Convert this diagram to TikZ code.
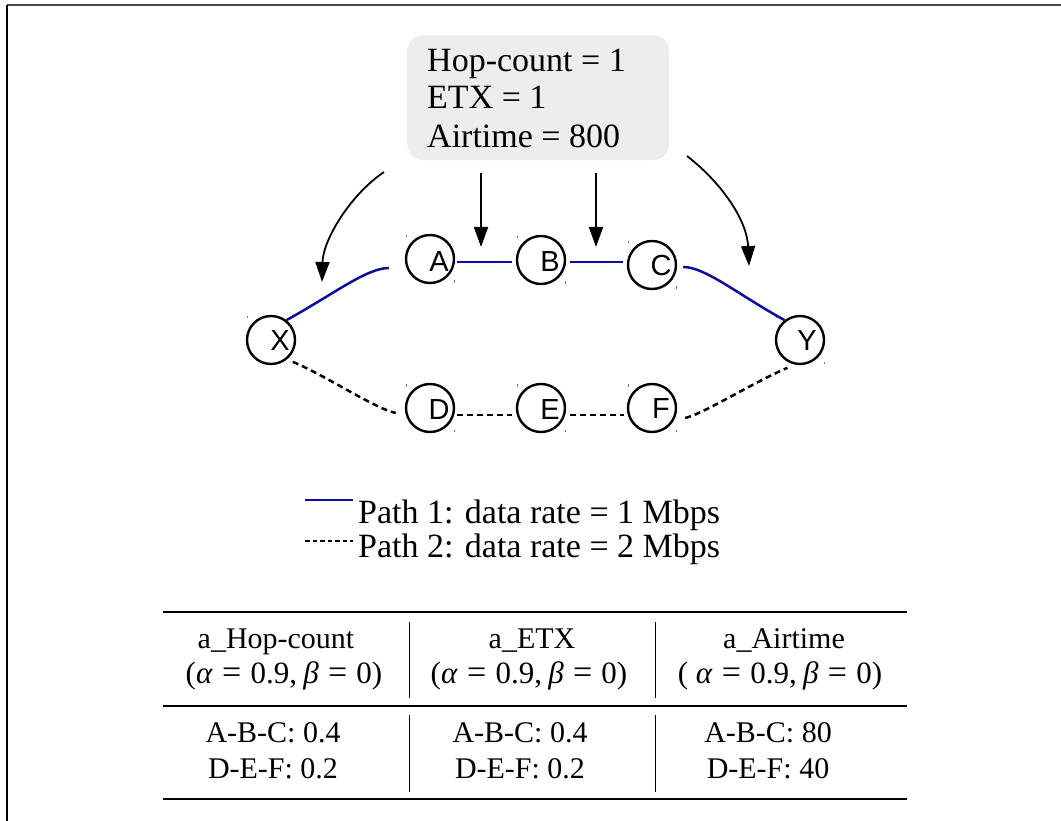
\documentclass[tikz,border=0pt]{standalone}
\usepackage{fontspec}
\setmainfont{Liberation Serif}
\newfontfamily\vertexfont{Liberation Sans}
\usetikzlibrary{arrows.meta}
\definecolor{pathblue}{RGB}{10,10,165}
\definecolor{boxgray}{RGB}{237,237,237}
\newcommand\tbeq{\hspace{0.3em}{\fontsize{34}{34}\selectfont=}\hspace{0.3em}}
\newcommand\tbsep{,\hspace{0.2em}}

\begin{document}
\begin{tikzpicture}[x=1pt,y=-1pt,
  vertex/.style={circle,draw,line width=2.4pt,minimum size=48pt,inner sep=0pt},
  vlabel/.style={font=\vertexfont\fontsize{29}{29}\selectfont,xshift=9pt,yshift=-1pt,inner sep=0pt},
  cornertick/.style={draw=black!55,line width=0.7pt},
  pathone/.style={draw=pathblue,line width=2.5pt},
  pathtwo/.style={draw=black,line width=2.5pt,dash pattern=on 6pt off 4pt},
  pointer/.style={draw=black,line width=1.8pt,-{Triangle[length=20pt,width=14pt]}},
  boxtext/.style={anchor=base west,inner sep=0pt,font=\fontsize{34}{38}\selectfont},
  legendtext/.style={anchor=base west,inner sep=0pt,font=\fontsize{34}{38}\selectfont},
  celltext/.style={anchor=base,inner sep=0pt,font=\fontsize{30}{34}\selectfont},
  mathtext/.style={anchor=base,inner sep=0pt,font=\fontsize{31}{34}\selectfont},
  thickrule/.style={draw=black,line width=2.6pt},
  thinrule/.style={draw=black,line width=1.5pt},
  colsep/.style={draw=black,line width=1pt}]
\useasboundingbox (0,0) rectangle (1061,821);

% frame edges
\draw[black!70,line width=2pt] (7,5) -- (1061,5);
\draw[black,line width=1.6pt] (7,5) -- (7,821);

% metric box
\node[fill=boxgray,rounded corners=16pt,minimum width=262pt,minimum height=125pt,
      inner sep=0pt,anchor=north west] (box) at (407,35) {};
\node[boxtext] (m1) at (427,72) {Hop-count = 1};
\node[boxtext] (m2) at (427,109) {ETX = 1};
\node[boxtext] (m3) at (427,148) {Airtime = 800};

% vertices
\node[vertex,label={[vlabel]center:X}] (X) at (271,340) {};
\node[vertex,label={[vlabel,yshift=-2pt]center:A}] (A) at (430,259) {};
\node[vertex,label={[vlabel,yshift=-1pt]center:B}] (B) at (541,260) {};
\node[vertex,label={[vlabel]center:C}] (C) at (652,265) {};
\node[vertex,label={[vlabel,xshift=-2pt]center:Y}] (Y) at (800,340) {};
\node[vertex,label={[vlabel,yshift=-1pt]center:D}] (D) at (430,408) {};
\node[vertex,label={[vlabel,yshift=-1pt]center:E}] (E) at (541,408) {};
\node[vertex,label={[vlabel]center:F}] (F) at (652,408) {};

\foreach \n in {X,A,B,C,Y,D,E,F}{
  \draw[cornertick] ([shift={(-24,-24)}]\n.center) -- ++(0,2.5);
  \draw[cornertick] ([shift={(24,24)}]\n.center) -- ++(0,-2.5);
}

% path 1
\draw[pathone] (X.52) .. controls +(47,-26) and +(-22,0) .. ([shift={(-16,9)}]A.west);
\draw[pathone] ([shift={(2,3)}]A.east) -- ([shift={(-4,2)}]B.west);
\draw[pathone] ([shift={(4,2)}]B.east) -- ([shift={(-4,-3)}]C.west);
\draw[pathone] ([shift={(6,2)}]C.east) .. controls +(22,0) and +(-47,-26) .. (Y.128);

% path 2
\draw[pathtwo] ([shift={(4,4)}]X.-45) .. controls +(35,15) and +(-20,-4) .. ([shift={(-9,5)}]D.west);
\draw[pathtwo] ([shift={(2,7)}]D.east) -- ([shift={(-4,7)}]E.west);
\draw[pathtwo] ([shift={(4,7)}]E.east) -- ([shift={(-3,7)}]F.west);
\draw[pathtwo] ([shift={(8,10)}]F.east) .. controls +(20,-5) and +(-35,15) .. ([shift={(-2,5)}]Y.-115);

% arrows from the metric box to the links
\coordinate (s1) at (481,173); \coordinate (t1) at (481,247);
\coordinate (s2) at (596,173); \coordinate (t2) at (596,247);
\coordinate (s3) at (384,172); \coordinate (t3) at (322,282);
\coordinate (s4) at (687,156); \coordinate (t4) at (749,266);
\draw[pointer] (s1) -- (t1);
\draw[pointer] (s2) -- (t2);
\draw[pointer] (s3) .. controls +(-34,23) and +(1,-42) .. (t3);
\draw[pointer] (s4) .. controls +(36,28) and +(-2,-45) .. (t4);

% legend
\coordinate (l1a) at (305,500); \coordinate (l1b) at (353,500);
\coordinate (l2a) at (305,541); \coordinate (l2b) at (353,541);
\draw[pathone] (l1a) -- (l1b);
\draw[draw=black,line width=2pt,dash pattern=on 4.5pt off 3pt] (l2a) -- (l2b);
\node[legendtext] (leg1) at (358,523) {Path 1: data rate = 1 Mbps};
\node[legendtext] (leg2) at (358,557) {Path 2: data rate = 2 Mbps};

% table
\draw[thickrule] (163,612) -- (907,612);
\draw[thinrule] (163,706) -- (907,706);
\draw[thickrule] (163,799) -- (907,799);
\draw[colsep] (409,622) -- (409,698);
\draw[colsep] (655,622) -- (655,698);
\draw[colsep] (409,715) -- (409,792);
\draw[colsep] (655,715) -- (655,792);

\node[celltext] (h1a) at (276,648) {a\_Hop-count};
\node[mathtext] (h1b) at (284,683) {(\textit{α}\tbeq0.9\tbsep\textit{β}\tbeq0)};
\node[celltext] (h2a) at (532,648) {a\_ETX};
\node[mathtext] (h2b) at (529,683) {(\textit{α}\tbeq0.9\tbsep\textit{β}\tbeq0)};
\node[celltext] (h3a) at (784,648) {a\_Airtime};
\node[mathtext] (h3b) at (780,683) {( \textit{α}\tbeq0.9\tbsep\textit{β}\tbeq0)};

\node[celltext] (c1a) at (273,742) {A-B-C: 0.4};
\node[celltext] (c1b) at (273,778) {D-E-F: 0.2};
\node[celltext] (c2a) at (520,742) {A-B-C: 0.4};
\node[celltext] (c2b) at (520,778) {D-E-F: 0.2};
\node[celltext] (c3a) at (768,742) {A-B-C: 80};
\node[celltext] (c3b) at (768,778) {D-E-F: 40};
\end{tikzpicture}
\end{document}
